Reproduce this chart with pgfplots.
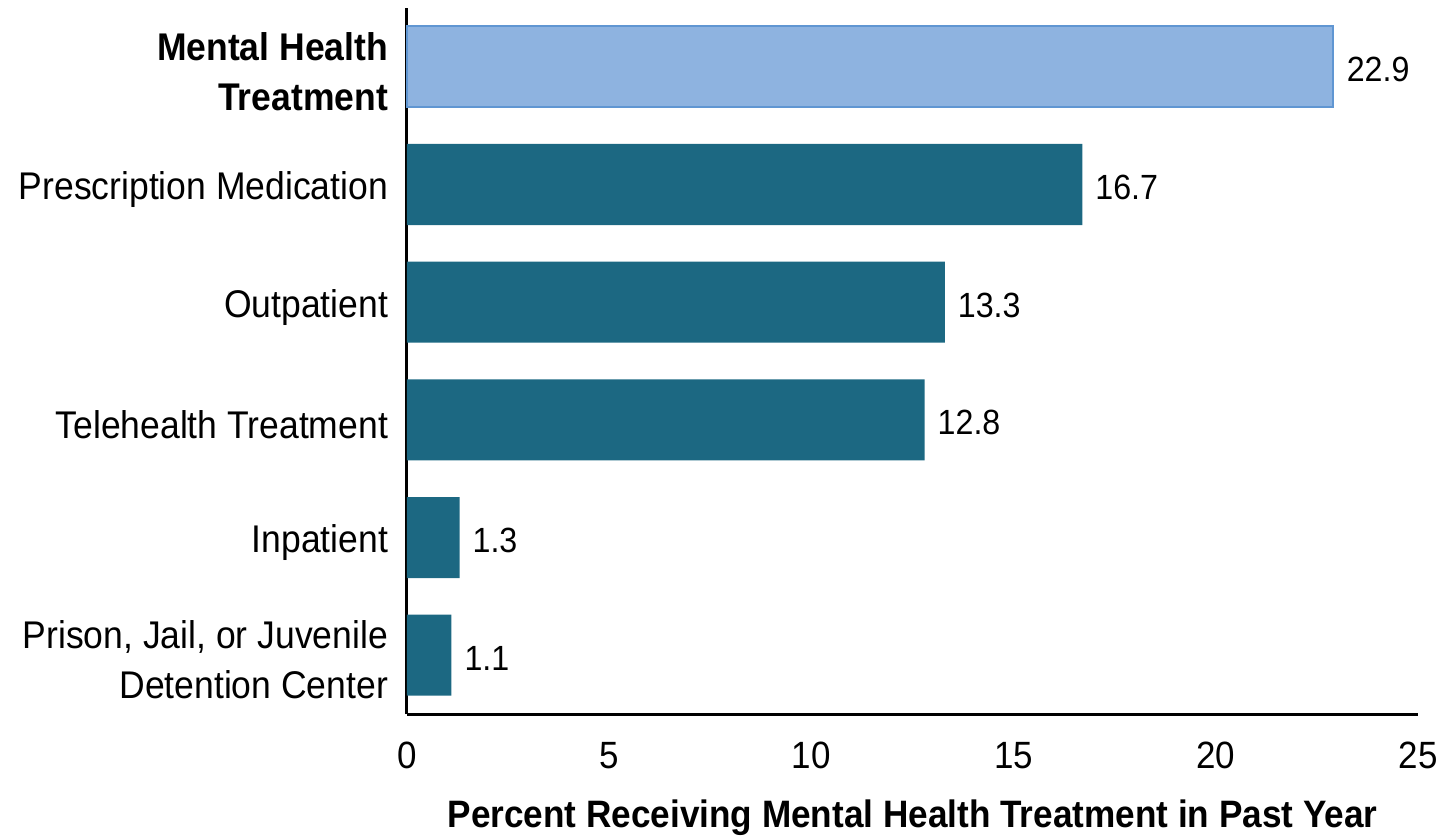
\documentclass[border=0pt]{standalone}
\usepackage{fontspec}
\setmainfont{Liberation Sans}[FakeStretch=0.92]
\usepackage{pgfplots}
\pgfplotsset{compat=1.18}
\definecolor{darkbar}{RGB}{28,104,130}
\definecolor{lightbar}{RGB}{142,179,224}
\definecolor{lightedge}{RGB}{96,150,210}
\begin{document}
\begin{tikzpicture}
\useasboundingbox (-203.5pt,-61pt) rectangle (518pt,357pt);
\begin{axis}[
  at={(0pt,0pt)}, anchor=south west,
  scale only axis, width=505.5pt, height=353pt,
  xbar, bar width=40.5pt, bar shift=0pt,
  xmin=0, xmax=25, ymin=-0.5, ymax=5.5,
  axis lines=left, axis line style={-, line width=1.5pt, black},
  xtick={0,5,...,25}, ytick={0,1,2,3,4,5},
  yticklabels={{Prison, Jail, or Juvenile\\Detention Center},Inpatient,Telehealth Treatment,Outpatient,Prescription Medication,{\bfseries Mental Health\\\bfseries Treatment}},
  major tick length=0pt,
  /pgf/number format/assume math mode=true,
  xticklabel style={anchor=north, yshift=-10.5pt, font=\fontsize{19}{23}\selectfont},
  yticklabel style={align=right, xshift=-6pt, yshift=-2.5pt, font=\fontsize{19.3}{25}\selectfont},
  xlabel={Percent Receiving Mental Health Treatment in Past Year},
  xlabel style={at={(axis description cs:0.5,0)}, anchor=base, yshift=-56.5pt, font=\bfseries\fontsize{19.1}{22}\selectfont},
  nodes near coords={\pgfmathprintnumber[fixed,fixed zerofill,precision=1,assume math mode=true]{\pgfplotspointmeta}},
  point meta=explicit,
  nodes near coords style={anchor=west, xshift=3pt, yshift=-1.5pt, font=\fontsize{17.5}{21}\selectfont, black},
  clip=false,
]
\addplot[fill=darkbar, draw=none] coordinates {
  (1.1,0) [1.1]
  (1.3,1) [1.3]
  (12.8,2) [12.8]
  (13.3,3) [13.3]
  (16.7,4) [16.7]
};
\addplot[fill=lightbar, draw=lightedge, line width=1pt] coordinates {
  (22.9,5) [22.9]
};
\end{axis}
\end{tikzpicture}
\end{document}
